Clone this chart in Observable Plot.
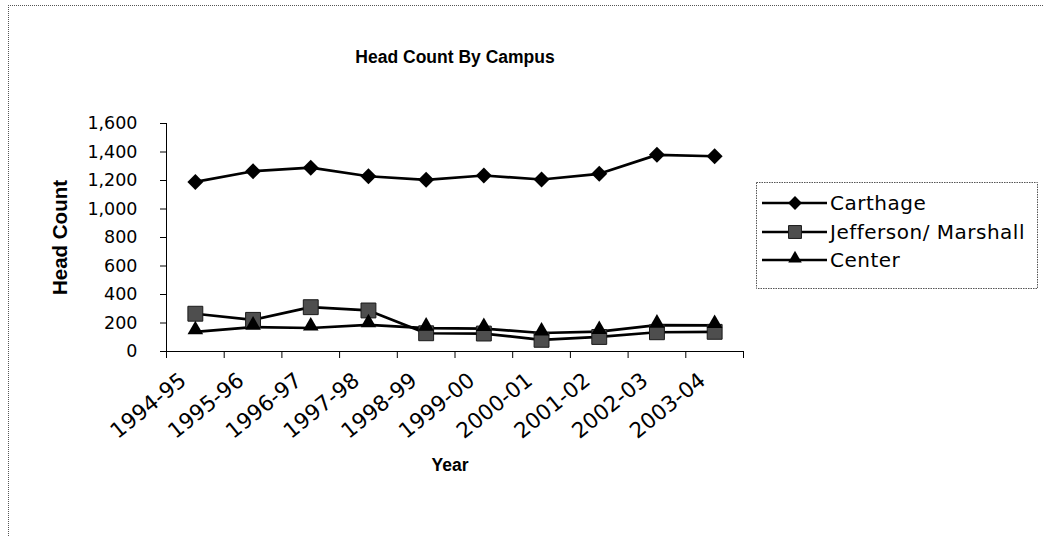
<!DOCTYPE html>
<html><head><meta charset="utf-8">
<script src="https://cdn.jsdelivr.net/npm/d3@7"></script>
<script src="https://cdn.jsdelivr.net/npm/@observablehq/plot@0.6"></script>
<style>
body{margin:0;background:#fff;}
#wrap{position:relative;width:1044px;height:537px;overflow:hidden;background:#fff;}
#border{position:absolute;left:8px;top:5px;width:1100px;height:600px;border-left:1px dotted #555;border-top:1px dotted #555;}
#chart{position:absolute;left:0;top:0;}
#legend{position:absolute;left:0;top:0;}
</style></head><body>
<div id="wrap"><div id="border"></div><div id="chart"></div><svg id="legend" width="1044" height="537"></svg></div>
<script>
const years = ["1994-95","1995-96","1996-97","1997-98","1998-99","1999-00","2000-01","2001-02","2002-03","2003-04"];
const carthage = [1190,1265,1290,1230,1205,1235,1207,1247,1380,1370];
const jefferson = [265,222,311,288,128,126,82,102,135,138];
const center = [138,171,165,187,164,161,130,140,185,183];
const yTicks = [0,200,400,600,800,1000,1200,1400,1600];
const seriesNames = ["Carthage","Jefferson/ Marshall","Center"];
const seriesValues = [carthage, jefferson, center];

const symbols = {
  "Carthage": {symbol:"diamond2", r:7.2, fill:"#000", stroke:"none", dy:0},
  "Jefferson/ Marshall": {symbol:"square", r:8.4, fill:"#4e4e4e", stroke:"#1a1a1a", dy:0},
  "Center": {symbol:"triangle", r:5.8, fill:"#000", stroke:"none", dy:-2}
};

const data = [];
seriesNames.forEach((s,k) => seriesValues[k].forEach((v,i) => data.push({series:s, i, x:i+0.5, y:v})));

const font = "Liberation Sans, Arial, sans-serif";
const wide = "DejaVu Sans, sans-serif";
const marks = [
  Plot.axisY({ticks:yTicks, tickFormat:d3.format(","), tickSize:6, tickPadding:23, label:null, fontSize:17.5, fontFamily:wide, stroke:"#000"}),
  Plot.axisX({ticks:d3.range(0,11), tickFormat:()=>"", tickSize:7, label:null, stroke:"#000"}),
  Plot.ruleX([0], {stroke:"#000", strokeWidth:1}),
  Plot.ruleY([0], {stroke:"#000", strokeWidth:1}),
  Plot.text(years, {x:(d,i)=>i+0.5, y:()=>0, text:d=>d, rotate:-39, textAnchor:"end", lineAnchor:"middle", dx:-12, dy:26, fontSize:21.5, fontFamily:wide, letterSpacing:"1.3px"}),
  Plot.line(data, {x:"x", y:"y", z:"series", stroke:"#000", strokeWidth:2.7})
];
seriesNames.forEach(s => {
  const st = symbols[s];
  marks.push(Plot.dot(data.filter(d=>d.series===s), {x:"x", y:"y", symbol:st.symbol, r:st.r, fill:st.fill, stroke:st.stroke, strokeWidth:1, dy:st.dy}));
});
marks.push(
  Plot.text(["Head Count By Campus"], {frameAnchor:"top", lineAnchor:"middle", textAnchor:"middle", dy:-66, fontWeight:"bold", fontSize:17.5}),
  Plot.text(["Head Count"], {frameAnchor:"left", textAnchor:"middle", lineAnchor:"middle", rotate:-90, dx:-106, fontWeight:"bold", fontSize:20.5}),
  Plot.text(["Year"], {frameAnchor:"bottom", lineAnchor:"middle", textAnchor:"middle", dx:-5, dy:114, fontWeight:"bold", fontSize:17.5})
);

const chart = Plot.plot({
  width:1044, height:537,
  marginLeft:166, marginRight:301, marginTop:123, marginBottom:186,
  x:{domain:[0,10]},
  y:{domain:[0,1600]},
  style:{fontFamily:font, color:"#000", background:"transparent"},
  marks
});
document.getElementById("chart").appendChild(chart);

// legend
const lg = d3.select("#legend").style("font-family", wide);
lg.append("rect").attr("x",756.5).attr("y",182.5).attr("width",281).attr("height",106)
  .attr("fill","#fff").attr("stroke","#555").attr("stroke-dasharray","1.5,1");
const rowY = [203, 232, 260];
seriesNames.forEach((s,k) => {
  const st = symbols[s];
  const y = rowY[k];
  lg.append("line").attr("x1",762).attr("x2",827).attr("y1",y).attr("y2",y).attr("stroke","#000").attr("stroke-width",2.5);
  const size = Math.PI*st.r*st.r*0.75;
  const sym = {diamond2:d3.symbolDiamond2, square:d3.symbolSquare, triangle:d3.symbolTriangle}[st.symbol];
  lg.append("path").attr("d", d3.symbol(sym, size)()).attr("transform",`translate(795,${y + st.dy*0.7})`)
    .attr("fill",st.fill).attr("stroke",st.stroke);
  lg.append("text").attr("x",830).attr("y",y).attr("dy","0.35em").attr("font-size",20).attr("letter-spacing","0.5px").text(s);
});
</script>
</body></html>
